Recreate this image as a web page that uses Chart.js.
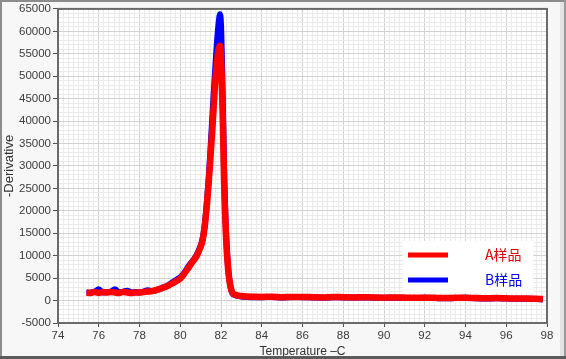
<!DOCTYPE html>
<html>
<head>
<meta charset="utf-8">
<script src="https://cdn.jsdelivr.net/npm/chart.js@4.4.1/dist/chart.umd.min.js"></script>
<style>
html,body{margin:0;padding:0;background:#f6f6f6;}
#wrap{width:566px;height:359px;position:relative;}
</style>
</head>
<body>
<div id="wrap"><canvas id="c" width="566" height="359"></canvas></div>
<script>
// ---- data ----
const temps = [75.4,75.6,75.8,76.0,76.2,76.4,76.6,76.8,77.0,77.2,77.4,77.6,77.8,78.0,78.2,78.4,78.6,78.8,79.0,79.2,79.4,79.6,79.8,80.0,80.2,80.4,80.6,80.8,
  81.0,81.1,81.2,81.3,81.4,81.5,81.6,81.7,81.8,81.9,
  81.95,82.0,82.05,82.1,82.15,
  82.25,82.35,82.45,82.55,82.7,
  83.0,83.3,83.6,
  84.0,84.5,85.0,85.5,86.0,86.5,87.0,87.5,88.0,88.5,89.0,89.5,90.0,90.5,91.0,91.5,92.0,92.5,93.0,93.5,94.0,94.5,95.0,95.5,96.0,96.5,97.0,97.5,
  97.8];
const sampleA = [1800,1700,1900,1700,1900,1800,1900,1800,1700,1900,1800,1700,1800,1800,1900,2000,2100,2300,2600,2900,3300,3800,4300,4900,6000,7300,8600,9900,
  12000,13500,16500,21000,26500,33000,40000,47500,53000,56300,
  56800,54500,47000,38000,27000,
  14000,7000,3500,1800,1300,
  1000,900,850,
  800,850,750,800,800,750,700,800,750,700,750,700,650,700,650,600,650,600,550,600,650,550,500,550,500,450,450,400,
  350];
const sampleB = [1700,1800,2000,2500,1800,1900,2000,2500,1800,2000,2200,1800,1900,1800,2000,2300,2100,2300,2600,3000,3400,4000,4600,5200,6200,7600,8800,10100,
  12200,13800,16800,21500,27500,35000,43000,50500,57500,62500,
  63800,61500,53000,42000,29500,
  15000,7200,3400,1700,1200,
  900,800,750,
  750,800,700,800,750,700,650,750,700,700,700,650,600,650,600,550,600,550,500,550,600,500,450,500,450,400,400,350,
  250];
const seriesNames = ['A样品','B样品'];
const seriesColors = ['#ff0000','#0000ff'];
const legendTextColors = ['#e00000','#0000ee'];
const xMin = 74, xMax = 98, xMajor = 2, xMinor = 0.25;
const yMin = -5000, yMax = 65000, yMajor = 5000, yMinor = 1000;
const xTitle = 'Temperature –C';
const yTitle = '-Derivative';

const toPts = vals => temps.map((t,i)=>({x:t,y:vals[i]}));

const isMajor = (v, step) => Math.abs(v/step - Math.round(v/step)) < 1e-6;

const framePlugin = {
  id:'frame',
  beforeDraw(chart){
    const {ctx, chartArea:a, width, height} = chart;
    ctx.save();
    ctx.fillStyle = '#f7f7f7';
    ctx.fillRect(0,0,width,height);
    ctx.fillStyle = '#ffffff';
    ctx.fillRect(a.left,a.top,a.right-a.left,a.bottom-a.top);
    ctx.restore();
  },
  afterDraw(chart){
    const {ctx, chartArea:a, width, height} = chart;
    ctx.save();
    // plot frame
    ctx.strokeStyle = '#6a6a6a';
    ctx.lineWidth = 2;
    ctx.strokeRect(a.left, a.top, a.right-a.left, a.bottom-a.top);
    // legend box
    const bx = a.left + 345, by = a.top + 232;
    ctx.fillStyle = '#ffffff';
    ctx.fillRect(bx, by, 130, 52);
    chart.data.datasets.forEach((ds,i)=>{
      const y = by + 14 + i*25;
      ctx.strokeStyle = ds.borderColor;
      ctx.lineWidth = 5;
      ctx.beginPath();
      ctx.moveTo(bx+5, y);
      ctx.lineTo(bx+45, y);
      ctx.stroke();
      ctx.fillStyle = legendTextColors[i];
      ctx.font = '14px "Noto Sans CJK SC", "DejaVu Sans", sans-serif';
      ctx.textBaseline = 'middle';
      ctx.textAlign = 'left';
      ctx.fillText(ds.label, bx+82, y);
    });
    // outer window border
    ctx.strokeStyle = '#8c8c8c';
    ctx.lineWidth = 2;
    ctx.beginPath();
    ctx.moveTo(1, height); ctx.lineTo(1,1); ctx.lineTo(width-1,1);
    ctx.stroke();
    ctx.fillStyle = '#e4e4e4';
    ctx.fillRect(width-6, 2, 4, height-2);
    ctx.fillStyle = '#9a9a9a';
    ctx.fillRect(width-2, 0, 2, height);
    ctx.fillStyle = '#5c5c5c';
    ctx.fillRect(0, height-3, width, 3);
    ctx.restore();
  }
};

new Chart(document.getElementById('c'), {
  type:'line',
  data:{
    datasets:[
      {label:seriesNames[0], data:toPts(sampleA), borderColor:seriesColors[0], backgroundColor:seriesColors[0], borderWidth:6.5, pointRadius:0, cubicInterpolationMode:'monotone', tension:0.3},
      {label:seriesNames[1], data:toPts(sampleB), borderColor:seriesColors[1], backgroundColor:seriesColors[1], borderWidth:6, pointRadius:0, cubicInterpolationMode:'monotone', tension:0.3}
    ]
  },
  options:{
    responsive:false,
    animation:false,
    devicePixelRatio:1,
    layout:{padding:{left:0, top:6, right:19, bottom:0}},
    plugins:{legend:{display:false}, tooltip:{enabled:false}},
    scales:{
      x:{
        type:'linear', min:xMin, max:xMax,
        afterFit(s){ s.height = 36; },
        border:{display:false},
        grid:{
          color:c=> isMajor(c.tick.value,xMajor) ? '#d2d2d2' : '#ebebeb',
          lineWidth:1,
          tickLength:4,
          tickColor:c=> isMajor(c.tick.value,xMajor) ? '#505050' : 'rgba(0,0,0,0)'
        },
        ticks:{
          stepSize:xMinor, autoSkip:false, maxRotation:0, minRotation:0, padding:2,
          color:'#3c3c3c',
          font:{family:'"Liberation Sans", Arial, sans-serif', size:11.5},
          callback:v=> isMajor(v,xMajor) ? String(Math.round(v)) : ''
        },
        title:{display:true, text:xTitle, color:'#333333', padding:{top:0,bottom:0},
          font:{family:'"Liberation Sans", Arial, sans-serif', size:12}}
      },
      y:{
        type:'linear', min:yMin, max:yMax,
        afterFit(s){ s.width = 58; },
        border:{display:false},
        grid:{
          color:c=> isMajor(c.tick.value,yMajor) ? '#d2d2d2' : '#ebebeb',
          lineWidth:1,
          tickLength:5,
          tickColor:c=> isMajor(c.tick.value,yMajor) ? '#505050' : 'rgba(0,0,0,0)'
        },
        ticks:{
          stepSize:yMinor, autoSkip:false, padding:2,
          color:'#3c3c3c',
          font:{family:'"Liberation Sans", Arial, sans-serif', size:11.5},
          callback:v=> isMajor(v,yMajor) ? String(Math.round(v)) : ''
        },
        title:{display:true, text:yTitle, color:'#333333', padding:{top:2,bottom:0},
          font:{family:'"Liberation Sans", Arial, sans-serif', size:13}}
      }
    }
  },
  plugins:[framePlugin]
});
</script>
</body>
</html>
